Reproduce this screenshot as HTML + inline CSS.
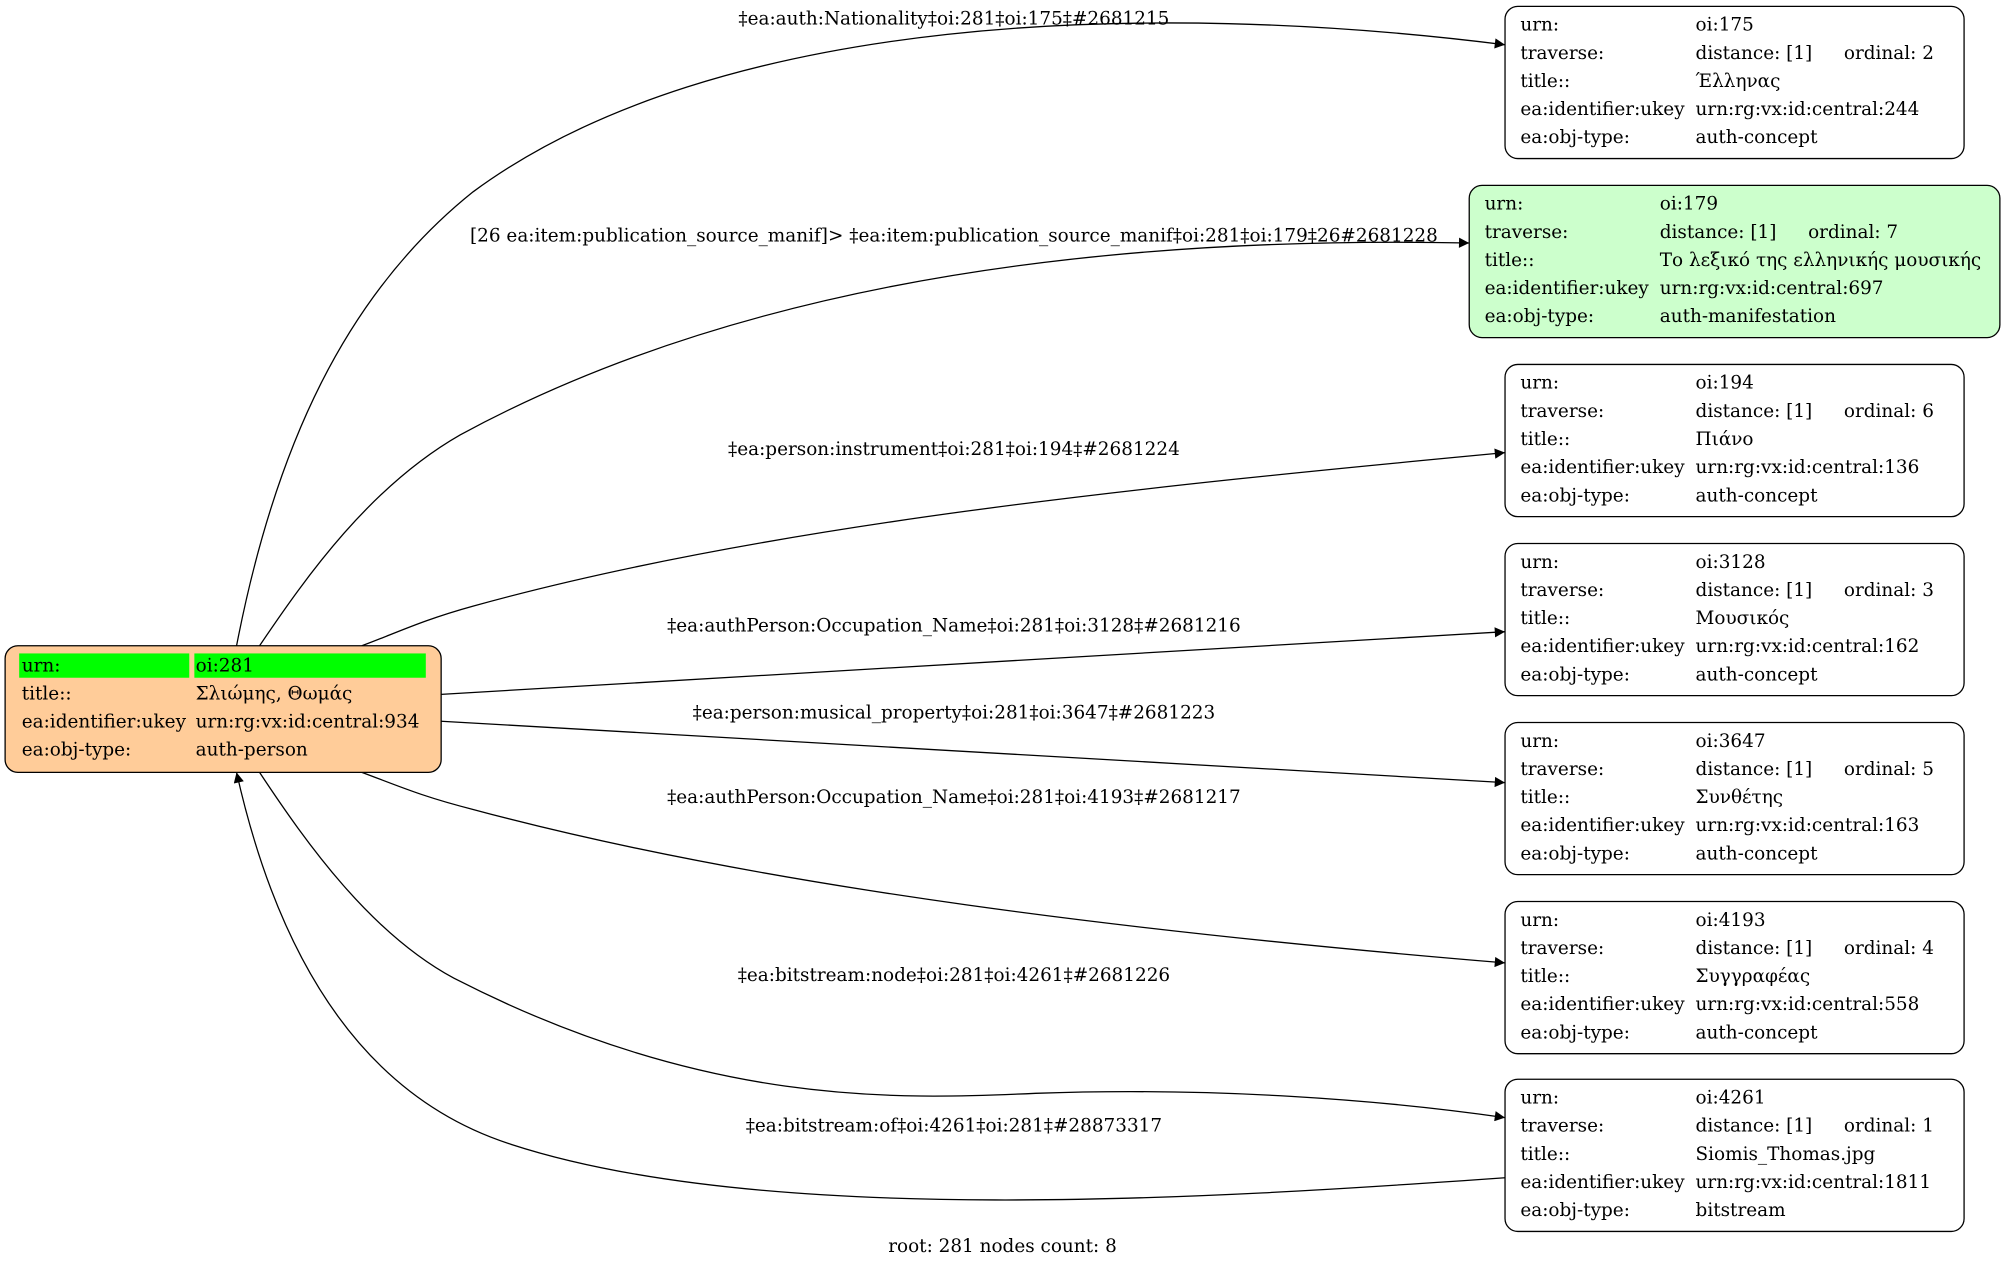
<!DOCTYPE html>
<html><head><meta charset="utf-8"><style>
html,body{margin:0;padding:0;background:#fff;}
svg{display:block;}
text{font-family:"DejaVu Serif","Liberation Serif",serif;font-size:14.4px;fill:#000;}
</style></head><body>
<svg width="2005" height="1268" viewBox="0 0 1568 991.6" preserveAspectRatio="none" xmlns="http://www.w3.org/2000/svg">
<defs><marker id="a" viewBox="0 0 10 10" refX="10" refY="5" markerWidth="10" markerHeight="8" markerUnits="userSpaceOnUse" orient="auto"><path d="M0,0L10,5L0,10z" fill="#000"/></marker></defs>
<g fill="none" stroke="#000" stroke-width="1">
<path d="M185,505 C215,350 270,230 370,150 C560,10 900,0 1177,35" marker-end="url(#a)"/>
<path d="M203,505 C240,450 290,380 360,340 C600,210 900,185 1149,190" marker-end="url(#a)"/>
<path d="M283,505 C310,495 330,485 370,474 C600,410 900,380 1177,354" marker-end="url(#a)"/>
<path d="M345,543 L1177,494" marker-end="url(#a)"/>
<path d="M345,564 L1177,612" marker-end="url(#a)"/>
<path d="M283,604 C310,614 330,623 370,633 C600,695 900,730 1177,753" marker-end="url(#a)"/>
<path d="M203,604 C240,660 290,730 355,765 C550,865 700,860 810,855 C950,850 1080,860 1177,874" marker-end="url(#a)"/>
<path d="M1177,921 C950,937 600,960 400,895 C290,860 220,760 185,604" marker-end="url(#a)"/>
</g>
<g text-anchor="middle">
<text x="746" y="19">‡ea:auth:Nationality‡oi:281‡oi:175‡#2681215</text>
<text x="746" y="189">[26 ea:item:publication_source_manif]&gt; ‡ea:item:publication_source_manif‡oi:281‡oi:179‡26#2681228</text>
<text x="746" y="356">‡ea:person:instrument‡oi:281‡oi:194‡#2681224</text>
<text x="746" y="494">‡ea:authPerson:Occupation_Name‡oi:281‡oi:3128‡#2681216</text>
<text x="746" y="562">‡ea:person:musical_property‡oi:281‡oi:3647‡#2681223</text>
<text x="746" y="628">‡ea:authPerson:Occupation_Name‡oi:281‡oi:4193‡#2681217</text>
<text x="746" y="767">‡ea:bitstream:node‡oi:281‡oi:4261‡#2681226</text>
<text x="746" y="885">‡ea:bitstream:of‡oi:4261‡oi:281‡#28873317</text>
<text x="784" y="979">root: 281 nodes count: 8</text>
</g>
<rect x="4" y="505" width="341" height="99" rx="10" fill="#ffcc99" stroke="#000"/>
<rect x="15" y="511" width="133" height="19" fill="#00ff00"/>
<rect x="152" y="511" width="181" height="19" fill="#00ff00"/>
<text x="17" y="525">urn:</text><text x="153" y="525">oi:281</text>
<text x="17" y="547">title::</text><text x="153" y="547">Σλιώμης, Θωμάς</text>
<text x="17" y="569">ea:identifier:ukey</text><text x="153" y="569">urn:rg:vx:id:central:934</text>
<text x="17" y="591">ea:obj-type:</text><text x="153" y="591">auth-person</text>
<g>
<rect x="1177" y="5" width="359" height="119" rx="10" fill="#fff" stroke="#000"/>
<text x="1189" y="24">urn:</text><text x="1326" y="24">oi:175</text>
<text x="1189" y="46">traverse:</text><text x="1326" y="46">distance: [1]</text><text x="1442" y="46">ordinal: 2</text>
<text x="1189" y="68">title::</text><text x="1326" y="68">Έλληνας</text>
<text x="1189" y="90">ea:identifier:ukey</text><text x="1326" y="90">urn:rg:vx:id:central:244</text>
<text x="1189" y="112">ea:obj-type:</text><text x="1326" y="112">auth-concept</text>
</g>
<rect x="1149" y="145" width="415" height="119" rx="10" fill="#ccffcc" stroke="#000"/>
<text x="1161" y="164">urn:</text><text x="1298" y="164">oi:179</text>
<text x="1161" y="186">traverse:</text><text x="1298" y="186">distance: [1]</text><text x="1414" y="186">ordinal: 7</text>
<text x="1161" y="208">title::</text><text x="1298" y="208">Το λεξικό της ελληνικής μουσικής</text>
<text x="1161" y="230">ea:identifier:ukey</text><text x="1298" y="230">urn:rg:vx:id:central:697</text>
<text x="1161" y="252">ea:obj-type:</text><text x="1298" y="252">auth-manifestation</text>
<g transform="translate(0,280)">
<rect x="1177" y="5" width="359" height="119" rx="10" fill="#fff" stroke="#000"/>
<text x="1189" y="24">urn:</text><text x="1326" y="24">oi:194</text>
<text x="1189" y="46">traverse:</text><text x="1326" y="46">distance: [1]</text><text x="1442" y="46">ordinal: 6</text>
<text x="1189" y="68">title::</text><text x="1326" y="68">Πιάνο</text>
<text x="1189" y="90">ea:identifier:ukey</text><text x="1326" y="90">urn:rg:vx:id:central:136</text>
<text x="1189" y="112">ea:obj-type:</text><text x="1326" y="112">auth-concept</text>
</g>
<g transform="translate(0,420)">
<rect x="1177" y="5" width="359" height="119" rx="10" fill="#fff" stroke="#000"/>
<text x="1189" y="24">urn:</text><text x="1326" y="24">oi:3128</text>
<text x="1189" y="46">traverse:</text><text x="1326" y="46">distance: [1]</text><text x="1442" y="46">ordinal: 3</text>
<text x="1189" y="68">title::</text><text x="1326" y="68">Μουσικός</text>
<text x="1189" y="90">ea:identifier:ukey</text><text x="1326" y="90">urn:rg:vx:id:central:162</text>
<text x="1189" y="112">ea:obj-type:</text><text x="1326" y="112">auth-concept</text>
</g>
<g transform="translate(0,560)">
<rect x="1177" y="5" width="359" height="119" rx="10" fill="#fff" stroke="#000"/>
<text x="1189" y="24">urn:</text><text x="1326" y="24">oi:3647</text>
<text x="1189" y="46">traverse:</text><text x="1326" y="46">distance: [1]</text><text x="1442" y="46">ordinal: 5</text>
<text x="1189" y="68">title::</text><text x="1326" y="68">Συνθέτης</text>
<text x="1189" y="90">ea:identifier:ukey</text><text x="1326" y="90">urn:rg:vx:id:central:163</text>
<text x="1189" y="112">ea:obj-type:</text><text x="1326" y="112">auth-concept</text>
</g>
<g transform="translate(0,700)">
<rect x="1177" y="5" width="359" height="119" rx="10" fill="#fff" stroke="#000"/>
<text x="1189" y="24">urn:</text><text x="1326" y="24">oi:4193</text>
<text x="1189" y="46">traverse:</text><text x="1326" y="46">distance: [1]</text><text x="1442" y="46">ordinal: 4</text>
<text x="1189" y="68">title::</text><text x="1326" y="68">Συγγραφέας</text>
<text x="1189" y="90">ea:identifier:ukey</text><text x="1326" y="90">urn:rg:vx:id:central:558</text>
<text x="1189" y="112">ea:obj-type:</text><text x="1326" y="112">auth-concept</text>
</g>
<g transform="translate(0,839)">
<rect x="1177" y="5" width="359" height="119" rx="10" fill="#fff" stroke="#000"/>
<text x="1189" y="24">urn:</text><text x="1326" y="24">oi:4261</text>
<text x="1189" y="46">traverse:</text><text x="1326" y="46">distance: [1]</text><text x="1442" y="46">ordinal: 1</text>
<text x="1189" y="68">title::</text><text x="1326" y="68">Siomis_Thomas.jpg</text>
<text x="1189" y="90">ea:identifier:ukey</text><text x="1326" y="90">urn:rg:vx:id:central:1811</text>
<text x="1189" y="112">ea:obj-type:</text><text x="1326" y="112">bitstream</text>
</g>
</svg>
</body></html>
